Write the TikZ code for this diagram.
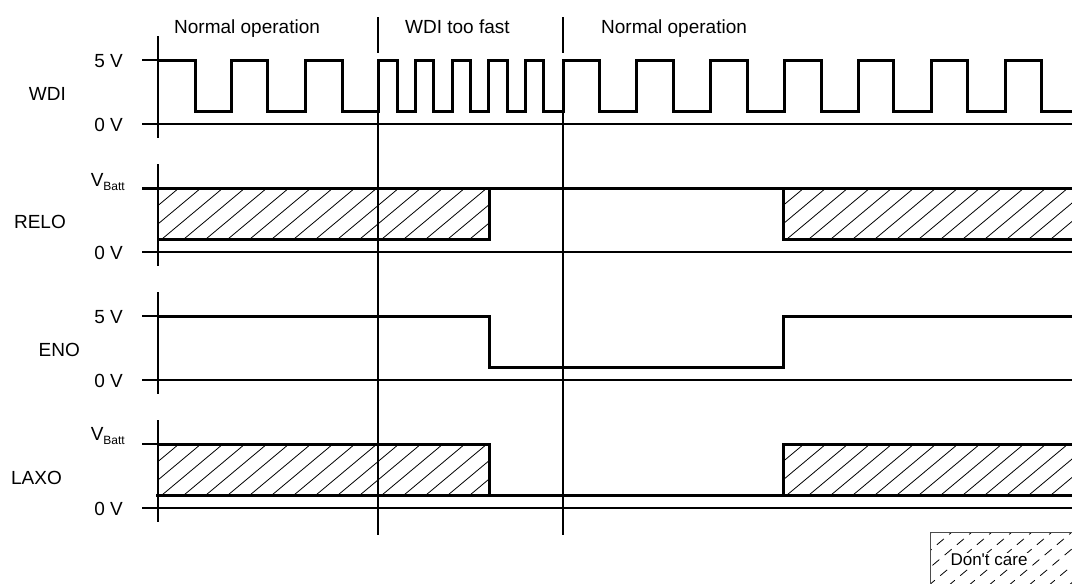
\documentclass[tikz,border=0pt]{standalone}
\usepackage{fontspec}
\setmainfont{Liberation Sans}
\newcommand\hatchbox[4]{%
  \begin{scope}
    \clip (#1,#2) rectangle (#3,#4);
    \foreach \k in {0,...,22} {\draw[hatchline] ({#1-62+22*\k},#4) -- ++(61,-51);}
  \end{scope}}
\begin{document}
\begin{tikzpicture}[x=1pt,y=-1pt,
  thinline/.style={line width=1.7pt},
  sig/.style={line width=3pt, line join=miter},
  axisline/.style={line width=2.7pt},
  hatchline/.style={line width=0.8pt},
  lbl/.style={font=\fontsize{19}{22}\selectfont, inner sep=0pt},
]
\useasboundingbox (0,0) rectangle (1072,584);

% ---------- top labels and dividers
\node[lbl, anchor=base west] (t1) at (174,33) {Normal operation};
\node[lbl, anchor=base west] (t2) at (405,33) {WDI too fast};
\node[lbl, anchor=base west] (t3) at (601,33) {Normal operation};
\foreach \x in {378,563} {
  \draw[thinline] (\x,17) -- (\x,53);
  \draw[thinline] (\x,60) -- (\x,535);
}

% ---------- row labels
\node[lbl, anchor=base east] (nWDI) at (66,100) {WDI};
\node[lbl, anchor=base east] (nRELO) at (66,228) {RELO};
\node[lbl, anchor=base east] (nENO) at (80,356) {ENO};
\node[lbl, anchor=base east] (nLAXO) at (62,484) {LAXO};

% voltage labels
\node[lbl, anchor=base east] (v1) at (123,67) {5 V};
\node[lbl, anchor=base east] (v2) at (123,131) {0 V};
\node[lbl, anchor=base east] (v3) at (125,186) {V\raisebox{-0.45ex}{\fontsize{12}{12}\selectfont Batt}};
\node[lbl, anchor=base east] (v4) at (123,259) {0 V};
\node[lbl, anchor=base east] (v5) at (123,323) {5 V};
\node[lbl, anchor=base east] (v6) at (123,387) {0 V};
\node[lbl, anchor=base east] (v7) at (125,440) {V\raisebox{-0.45ex}{\fontsize{12}{12}\selectfont Batt}};
\node[lbl, anchor=base east] (v8) at (123,515) {0 V};

% ---------- axes
\foreach \r in {0,1,2,3} {
  \pgfmathsetmacro\top{60+128*\r}
  \pgfmathsetmacro\zero{124+128*\r}
  \draw[axisline] (158,\top-24) -- (158,\zero+14);
  \draw[thinline] (142,\zero) -- (1073,\zero);
}

% ---------- WDI
\draw[thinline] (142,60) -- (158,60);
\draw[sig] (158,60)
  -- (195,60) -- (195,111) -- (231,111) -- (231,60)
  -- (267,60) -- (267,111) -- (305,111) -- (305,60)
  -- (342,60) -- (342,111) -- (378,111) -- (378,60)
  -- (397,60) -- (397,111) -- (415,111) -- (415,60)
  -- (433,60) -- (433,111) -- (452,111) -- (452,60)
  -- (470,60) -- (470,111) -- (488,111) -- (488,60)
  -- (507,60) -- (507,111) -- (525,111) -- (525,60)
  -- (543,60) -- (543,111) -- (563,111) -- (563,60)
  -- (599,60) -- (599,111) -- (636,111) -- (636,60)
  -- (673,60) -- (673,111) -- (710,111) -- (710,60)
  -- (747,60) -- (747,111) -- (784,111) -- (784,60)
  -- (821,60) -- (821,111) -- (858,111) -- (858,60)
  -- (893,60) -- (893,111) -- (931,111) -- (931,60)
  -- (967,60) -- (967,111) -- (1005,111) -- (1005,60)
  -- (1041,60) -- (1041,111) -- (1073,111);

% ---------- RELO
\hatchbox{158}{188}{489}{239}
\hatchbox{783}{188}{1073}{239}
\draw[sig] (142,188) -- (1073,188);
\draw[sig] (158,239) -- (489,239) -- (489,188);
\draw[sig] (783,188) -- (783,239) -- (1073,239);

% ---------- ENO
\draw[thinline] (142,316) -- (158,316);
\draw[sig] (158,316) -- (489,316) -- (489,367) -- (783,367) -- (783,316) -- (1073,316);

% ---------- LAXO
\hatchbox{158}{444}{489}{495}
\hatchbox{783}{444}{1073}{495}
\draw[thinline] (142,444) -- (158,444);
\draw[sig] (158,444) -- (489,444) -- (489,495);
\draw[sig] (156,495) -- (1073,495);
\draw[sig] (1073,444) -- (783,444) -- (783,495);

% ---------- legend
\begin{scope}
  \clip (930,532) rectangle (1072,584);
  \foreach \k in {0,...,10} {\draw[hatchline, dash pattern=on 9pt off 7pt] ({930-62+20*\k},586) -- ++(64,-54);}
\end{scope}
\node[font=\fontsize{17}{20}\selectfont, fill=white, inner sep=1.5pt] (dc) at (989,560) {Don\textquotesingle t care};
\draw[line width=1pt, black!70] (1073,532) -- (930,532) -- (930,585);
\end{tikzpicture}
\end{document}
